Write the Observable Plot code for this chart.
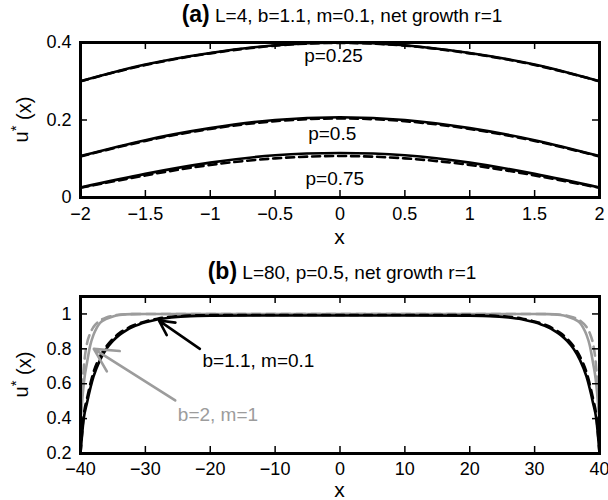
<!DOCTYPE html>
<html><head><meta charset="utf-8">
<script src="https://cdn.jsdelivr.net/npm/d3@7"></script>
<script src="https://cdn.jsdelivr.net/npm/@observablehq/plot@0.6"></script>
<style>
body{margin:0;background:#fff;}
#chart{width:608px;height:500px;}
svg{display:block}
</style></head><body><div id="chart"></div>
<script>
// ---------- Panel (a): L=4, b=1.1, m=0.1 ----------
const xA = [-2, -1.5, -1, -0.5, 0, 0.5, 1, 1.5, 2];
const aP025Solid = [0.300, 0.343, 0.373, 0.393, 0.400, 0.393, 0.373, 0.343, 0.300];
const aP025Dash  = [0.300, 0.342, 0.372, 0.392, 0.399, 0.392, 0.372, 0.342, 0.300];
const aP05Solid  = [0.107, 0.148, 0.179, 0.200, 0.207, 0.200, 0.179, 0.148, 0.107];
const aP05Dash   = [0.106, 0.146, 0.177, 0.197, 0.204, 0.197, 0.177, 0.146, 0.106];
const aP075Solid = [0.026, 0.061, 0.090, 0.109, 0.115, 0.109, 0.090, 0.061, 0.026];
const aP075Dash  = [0.025, 0.057, 0.084, 0.101, 0.107, 0.101, 0.084, 0.057, 0.025];
const aLabels = [
  {x: -0.05, y: 0.366, text: "p=0.25"},
  {x: -0.06, y: 0.163, text: "p=0.5"},
  {x: -0.04, y: 0.049, text: "p=0.75"}
];
const aXTicks = [-2, -1.5, -1, -0.5, 0, 0.5, 1, 1.5, 2];
const aYTicks = [0, 0.2, 0.4];

// ---------- Panel (b): L=80, p=0.5 ----------
const xBlack = [-40, -39.5, -39, -38, -37, -36, -35, -34, -33, -32, -31, -30, -28, -26, -24, -22, -20, -10, 0,
                10, 20, 22, 24, 26, 28, 30, 31, 32, 33, 34, 35, 36, 37, 38, 39, 39.5, 40];
const bBlackSolid = [0.20, 0.40, 0.49, 0.64, 0.735, 0.80, 0.845, 0.88, 0.905, 0.925, 0.94, 0.952, 0.970, 0.980, 0.986, 0.989, 0.990, 0.991, 0.991,
                     0.991, 0.990, 0.989, 0.986, 0.980, 0.970, 0.952, 0.94, 0.925, 0.905, 0.88, 0.845, 0.80, 0.735, 0.64, 0.49, 0.40, 0.20];
const bBlackDash  = [0.20, 0.42, 0.515, 0.665, 0.755, 0.815, 0.858, 0.89, 0.913, 0.932, 0.946, 0.957, 0.974, 0.984, 0.989, 0.992, 0.993, 0.994, 0.994,
                     0.994, 0.993, 0.992, 0.989, 0.984, 0.974, 0.957, 0.946, 0.932, 0.913, 0.89, 0.858, 0.815, 0.755, 0.665, 0.515, 0.42, 0.20];
const xGraySolid = [-40, -39.7, -39.4, -39, -38.5, -38, -37.5, -37, -36, -35, -34, -32, -30, 0,
                    30, 32, 34, 35, 36, 37, 37.5, 38, 38.5, 39, 39.4, 39.7, 40];
const bGraySolid = [0.38, 0.52, 0.63, 0.72, 0.82, 0.88, 0.92, 0.948, 0.972, 0.986, 0.994, 0.999, 1.0, 1.0,
                    1.0, 0.999, 0.994, 0.986, 0.972, 0.948, 0.92, 0.88, 0.82, 0.72, 0.63, 0.52, 0.38];
const xGrayDash = [-40, -39.8, -39.6, -39.4, -39, -38.5, -38, -37, -36, -35, -33, -30, 0,
                   30, 33, 35, 36, 37, 38, 38.5, 39, 39.4, 39.6, 39.8, 40];
const bGrayDash = [0.40, 0.52, 0.64, 0.73, 0.83, 0.89, 0.925, 0.962, 0.98, 0.99, 0.998, 1.0, 1.0,
                   1.0, 0.998, 0.99, 0.98, 0.962, 0.925, 0.89, 0.83, 0.73, 0.64, 0.52, 0.40];
const bArrowBlack = [{x1: -21.6, y1: 0.80, x2: -27.9, y2: 0.962}];
const bArrowGray  = [{x1: -25.4, y1: 0.504, x2: -37.95, y2: 0.80}];
const bLabelBlack = [{x: -21.2, y: 0.733, text: "b=1.1, m=0.1"}];
const bLabelGray  = [{x: -25.0, y: 0.424, text: "b=2, m=1"}];
const bXTicks = [-40, -30, -20, -10, 0, 10, 20, 30, 40];
const bYTicks = [0.2, 0.4, 0.6, 0.8, 1];

// ---------- drawing ----------
const W = 608, ML = 80, MR = 9, FW = W - ML - MR;
const BLACK = "#000", GRAY = "#9c9c9c";
const FONT = "'Liberation Sans', Arial, Helvetica, sans-serif";
const TICK_FS = 18;
const fmt = d => (d < 0 ? "\u2212" + Math.abs(d) : String(d));
const series = (xs, ys) => xs.map((x, i) => ({x, y: ys[i]}));

function panel({height, mt, mb, xDomain, yDomain, xTicks, yTicks, marks, tag, rest, titleY, xLabelY, xTickDy}) {
  const FH = height - mt - mb;
  const svg = Plot.plot({
    width: W, height, marginLeft: ML, marginRight: MR, marginTop: mt, marginBottom: mb,
    style: {fontFamily: FONT, color: "#000", background: "#fff", overflow: "visible"},
    x: {domain: xDomain, axis: null},
    y: {domain: yDomain, axis: null},
    marks: [
      ...marks,
      Plot.tickX(xTicks, {x: d => d, stroke: BLACK, strokeWidth: 1.5, insetTop: FH - 7}),
      Plot.tickX(xTicks, {x: d => d, stroke: BLACK, strokeWidth: 1.5, insetBottom: FH - 7}),
      Plot.tickY(yTicks, {y: d => d, stroke: BLACK, strokeWidth: 1.5, insetRight: FW - 7}),
      Plot.tickY(yTicks, {y: d => d, stroke: BLACK, strokeWidth: 1.5, insetLeft: FW - 7}),
      Plot.text(xTicks, {x: d => d, frameAnchor: "bottom", lineAnchor: "top", dy: xTickDy,
        text: fmt, fontSize: TICK_FS, fill: BLACK, fontFamily: FONT}),
      Plot.text(yTicks, {y: d => d, frameAnchor: "left", textAnchor: "end", dx: -9,
        text: fmt, fontSize: TICK_FS, fill: BLACK, fontFamily: FONT}),
      Plot.frame({stroke: BLACK, strokeWidth: 3})
    ]
  });
  const s = d3.select(svg);
  const t = s.append("text").attr("x", 342).attr("y", titleY).attr("text-anchor", "middle")
    .attr("font-family", FONT).attr("fill", "#000");
  t.append("tspan").attr("font-weight", "bold").attr("font-size", 23).text(tag);
  t.append("tspan").attr("font-size", 19).text(rest);
  s.append("text").attr("x", ML + FW / 2).attr("y", xLabelY).attr("text-anchor", "middle")
    .attr("font-family", FONT).attr("font-size", 21).text("x");
  const yl = s.append("text").attr("transform", `translate(28,${mt + FH / 2}) rotate(-90)`)
    .attr("text-anchor", "middle").attr("font-family", FONT).attr("font-size", 20);
  yl.append("tspan").text("u");
  yl.append("tspan").attr("dy", "-0.5em").attr("font-size", 15).text("*");
  yl.append("tspan").attr("dy", "0.5em").text(" (x)");
  return svg;
}

const lineOpts = (stroke, dash, curve) => ({x: "x", y: "y", stroke, strokeWidth: 2.6, strokeDasharray: dash, curve});

const svgA = panel({
  height: 250, mt: 42, mb: 53, xDomain: [-2, 2], yDomain: [0, 0.4], xTicks: aXTicks, yTicks: aYTicks,
  tag: "(a)", rest: " L=4, b=1.1, m=0.1, net growth r=1", titleY: 22, xLabelY: 244, xTickDy: 10,
  marks: [
    Plot.line(series(xA, aP025Dash), lineOpts(BLACK, "8,5", "natural")),
    Plot.line(series(xA, aP05Dash), lineOpts(BLACK, "8,5", "natural")),
    Plot.line(series(xA, aP075Dash), lineOpts(BLACK, "8,5", "natural")),
    Plot.line(series(xA, aP025Solid), lineOpts(BLACK, null, "natural")),
    Plot.line(series(xA, aP05Solid), lineOpts(BLACK, null, "natural")),
    Plot.line(series(xA, aP075Solid), lineOpts(BLACK, null, "natural")),
    Plot.text(aLabels, {x: "x", y: "y", text: "text", fontSize: 19, fill: BLACK})
  ]
});

const svgB = panel({
  height: 250, mt: 46, mb: 47, xDomain: [-40, 40], yDomain: [0.2, 1.1], xTicks: bXTicks, yTicks: bYTicks,
  tag: "(b)", rest: " L=80, p=0.5, net growth r=1", titleY: 29, xLabelY: 247, xTickDy: 9,
  marks: [
    Plot.line(series(xGraySolid, bGraySolid), lineOpts(GRAY, null, "monotone-x")),
    Plot.line(series(xGrayDash, bGrayDash), lineOpts(GRAY, "9,6", "monotone-x")),
    Plot.line(series(xBlack, bBlackSolid), lineOpts(BLACK, null, "monotone-x")),
    Plot.line(series(xBlack, bBlackDash), lineOpts(BLACK, "8,6", "monotone-x")),
    Plot.arrow(bArrowBlack, {x1: "x1", y1: "y1", x2: "x2", y2: "y2", stroke: BLACK, strokeWidth: 2.6, headLength: 15, headAngle: 55}),
    Plot.arrow(bArrowGray, {x1: "x1", y1: "y1", x2: "x2", y2: "y2", stroke: GRAY, strokeWidth: 2.6, headLength: 15, headAngle: 55}),
    Plot.text(bLabelBlack, {x: "x", y: "y", text: "text", fontSize: 19, fill: BLACK, textAnchor: "start"}),
    Plot.text(bLabelGray, {x: "x", y: "y", text: "text", fontSize: 19, fill: GRAY, textAnchor: "start"})
  ]
});

const chart = document.getElementById("chart");
chart.appendChild(svgA);
chart.appendChild(svgB);
</script></body></html>
